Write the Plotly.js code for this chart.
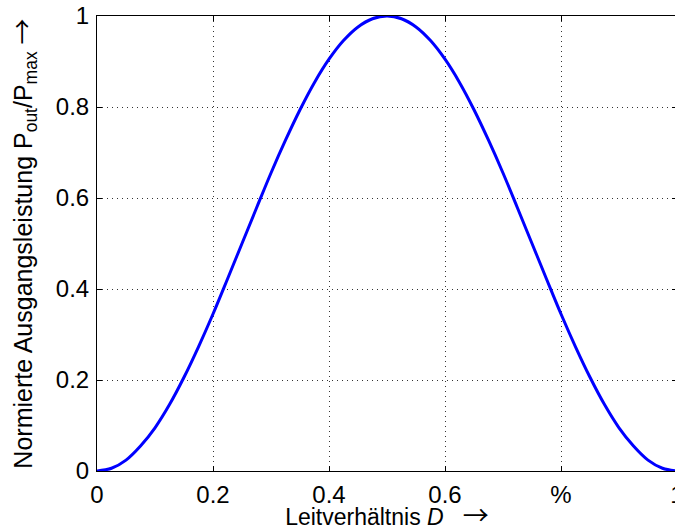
<!DOCTYPE html>
<html>
<head>
<meta charset="utf-8">
<script src="https://cdn.plot.ly/plotly-3.0.1.min.js"></script>
<style>
html, body { margin: 0; padding: 0; overflow: hidden; background: #fff; }
#chart { width: 680px; height: 532px; }
</style>
</head>
<body>
<div id="chart"></div>
<script>
// Duty cycle D (x) and normalized output power Pout/Pmax (y)
const dutyCycle = [0, 0.025, 0.05, 0.075, 0.1, 0.125, 0.15, 0.175, 0.2, 0.225, 0.25,
  0.275, 0.3, 0.325, 0.35, 0.375, 0.4, 0.425, 0.45, 0.475, 0.5,
  0.525, 0.55, 0.575, 0.6, 0.625, 0.65, 0.675, 0.7, 0.725, 0.75,
  0.775, 0.8, 0.825, 0.85, 0.875, 0.9, 0.925, 0.95, 0.975, 1];
const powerNorm = [0, 0.006, 0.024, 0.055, 0.095, 0.146, 0.206, 0.273, 0.345, 0.422, 0.5,
  0.578, 0.655, 0.727, 0.794, 0.854, 0.905, 0.946, 0.976, 0.994, 1,
  0.994, 0.976, 0.946, 0.905, 0.854, 0.794, 0.727, 0.655, 0.578, 0.5,
  0.422, 0.345, 0.273, 0.206, 0.146, 0.095, 0.055, 0.024, 0.006, 0];

const xTickVals = [0, 0.2, 0.4, 0.6, 0.8, 1];
const xTickText = ['0', '0.2', '0.4', '0.6', '%', '1'];
const yTickVals = [0, 0.2, 0.4, 0.6, 0.8, 1];
const yTickText = ['0', '0.2', '0.4', '0.6', '0.8', '1'];

const FONT = '"Liberation Sans", Arial, Helvetica, sans-serif';
const ARROW = '<span style="font-family:\'Noto Sans CJK JP\';font-size:26px">→</span>';

const trace = {
  x: dutyCycle,
  y: powerNorm,
  type: 'scatter',
  mode: 'lines',
  line: { color: '#0000ff', width: 3, shape: 'spline' },
  hoverinfo: 'none',
  cliponaxis: true
};

const axisCommon = {
  showline: true,
  linecolor: '#000',
  linewidth: 1,
  mirror: 'allticks',
  ticks: 'inside',
  ticklen: 5,
  tickwidth: 1,
  tickcolor: '#000',
  showgrid: true,
  gridcolor: '#333',
  gridwidth: 1,
  griddash: '1px,4px',
  zeroline: false,
  ticklabeloverflow: 'allow',
  tickfont: { family: FONT, size: 24, color: '#000' }
};

const layout = {
  width: 680,
  height: 532,
  margin: { l: 97, r: 3, t: 16, b: 61, pad: 0 },
  paper_bgcolor: '#fff',
  plot_bgcolor: '#fff',
  showlegend: false,
  font: { family: FONT, size: 23, color: '#000' },
  xaxis: Object.assign({}, axisCommon, {
    range: [0, 1],
    tickmode: 'array',
    tickvals: xTickVals,
    ticktext: xTickText,
    ticklabelstandoff: 2,
    title: {
      text: 'Leitverhältnis <i>D</i>&nbsp;&nbsp; ' + ARROW,
      font: { family: FONT, size: 23, color: '#000' },
      standoff: 1
    },
    automargin: false
  }),
  yaxis: Object.assign({}, axisCommon, {
    range: [0, 1],
    tickmode: 'array',
    tickvals: yTickVals,
    ticktext: yTickText,
    ticklabelstandoff: 2,
    title: {
      text: 'Normierte Ausgangsleistung P<sub>out</sub>/P<sub>max</sub> ' + ARROW,
      font: { family: FONT, size: 25, color: '#000' },
      standoff: 16
    },
    automargin: false
  })
};

Plotly.newPlot('chart', [trace], layout, { staticPlot: true, displayModeBar: false });
</script>
</body>
</html>
